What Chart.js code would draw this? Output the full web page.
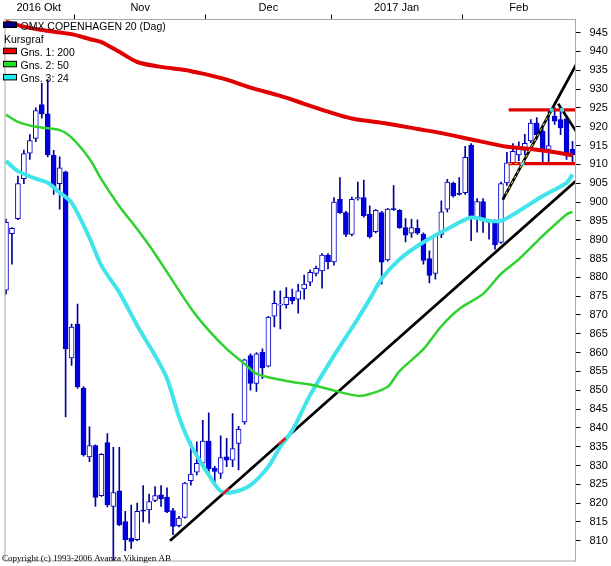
<!DOCTYPE html>
<html>
<head>
<meta charset="utf-8">
<script src="https://cdn.jsdelivr.net/npm/chart.js@4.4.1/dist/chart.umd.min.js"></script>
<style>
  html, body { margin: 0; padding: 0; background: #fff; }
  #wrap { width: 611px; height: 566px; }
</style>
</head>
<body>
<div id="wrap"><canvas id="myChart" width="611" height="566"></canvas></div>
<script>
// trading days from 2016-10-14 to 2017-02-27, index 0..95
const months = ["2016 Okt", "Nov", "Dec", "2017 Jan", "Feb"];
const monthStart = [0, 12, 34, 55, 77];
const lastDay = 95;

const open = [876.6, 891.6, 895.6, 906.2, 913.0, 916.9, 925.9, 923.4, 912.5, 904.9,
  908.0, 858.6, 867.6, 850.6, 832.3, 835.3, 822.0, 836.1, 819.1, 823.3,
  815.1, 810.7, 810.3, 818.0, 818.2, 820.7, 822.2, 821.6, 818.0, 814.0,
  816.2, 826.0, 828.2, 830.6, 836.5, 829.3, 827.9, 832.3, 831.4, 835.9,
  841.6, 859.2, 851.8, 860.1, 856.4, 869.7, 872.6, 872.7, 874.7, 874.2,
  876.9, 878.7, 881.0, 881.7, 885.9, 884.1, 900.7, 897.2, 891.4, 900.8,
  901.2, 896.7, 892.1, 897.2, 884.6, 898.2, 897.8, 893.2, 891.7, 893.0,
  891.4, 885.0, 881.0, 891.4, 898.1, 905.0, 902.3, 902.5, 915.1, 895.9,
  900.1, 894.8, 895.0, 889.3, 905.1, 910.4, 912.5, 913.8, 916.2, 921.0,
  918.8, 914.0, 922.8, 921.9, 922.1, 914.0];
const high = [895.5, 893.2, 906.9, 913.8, 917.9, 925.0, 931.5, 932.5, 913.7, 912.0,
  908.2, 867.6, 872.9, 851.0, 840.3, 835.5, 833.2, 838.5, 834.8, 834.8,
  817.8, 819.5, 820.0, 824.7, 822.4, 824.4, 824.7, 824.1, 818.6, 816.5,
  825.5, 836.3, 836.3, 842.0, 844.0, 829.8, 837.9, 837.2, 843.8, 840.4,
  858.3, 859.7, 860.0, 861.0, 869.6, 876.4, 876.4, 877.3, 876.9, 878.2,
  880.6, 882.0, 883.0, 886.3, 886.3, 901.2, 906.5, 897.5, 901.3, 905.3,
  905.8, 899.0, 898.0, 897.5, 898.3, 904.4, 898.0, 895.6, 895.4, 895.3,
  891.8, 887.0, 891.5, 900.3, 906.0, 905.3, 906.5, 914.8, 915.5, 900.9,
  900.9, 895.0, 895.3, 905.3, 913.2, 915.5, 916.0, 918.0, 921.9, 922.4,
  919.8, 924.5, 925.1, 924.5, 922.5, 916.1];
const low = [875.5, 883.5, 895.3, 904.9, 911.3, 916.0, 922.3, 912.0, 902.0, 898.1,
  842.9, 856.6, 850.5, 832.5, 831.0, 819.1, 821.8, 819.0, 803.0, 814.0,
  807.4, 808.0, 810.0, 815.0, 814.7, 820.4, 819.1, 817.5, 811.6, 813.7,
  816.0, 824.8, 827.5, 830.3, 828.1, 825.0, 826.6, 829.7, 829.7, 828.8,
  841.0, 850.0, 849.7, 853.1, 856.2, 866.8, 866.3, 871.8, 872.9, 870.5,
  874.2, 877.8, 880.4, 877.1, 882.2, 883.2, 897.0, 890.8, 891.0, 900.5,
  896.0, 890.4, 891.8, 878.2, 884.3, 897.8, 893.0, 889.4, 890.6, 891.4,
  883.5, 878.5, 879.5, 890.5, 897.4, 901.3, 901.8, 902.0, 889.7, 892.0,
  891.9, 890.1, 887.5, 889.0, 904.4, 910.0, 911.0, 912.5, 915.8, 916.6,
  910.0, 910.5, 920.6, 917.9, 911.3, 910.0];
const close = [894.6, 893.0, 904.9, 912.9, 916.3, 924.3, 923.4, 912.5, 903.8, 909.1,
  861.0, 866.8, 850.9, 832.8, 835.3, 821.5, 833.0, 819.5, 822.8, 814.2,
  810.3, 809.8, 817.8, 817.9, 820.4, 822.0, 821.1, 817.7, 813.8, 816.0,
  825.3, 827.7, 830.6, 836.5, 829.1, 828.4, 832.1, 831.4, 834.5, 839.6,
  858.1, 851.8, 859.7, 855.9, 869.4, 873.1, 872.8, 874.7, 873.8, 876.4,
  878.2, 881.3, 882.4, 885.9, 884.1, 900.0, 897.2, 891.4, 900.7, 901.2,
  896.3, 890.8, 897.8, 884.0, 898.1, 898.0, 893.2, 891.2, 893.2, 891.7,
  884.5, 880.5, 891.2, 897.4, 905.3, 901.6, 902.0, 911.9, 895.9, 900.1,
  895.0, 894.6, 888.6, 904.9, 910.4, 913.5, 914.5, 915.6, 921.0, 917.9,
  914.0, 915.0, 921.5, 919.7, 913.1, 912.6];

// moving averages, read at selected days
const ma200Day = [0, 3, 6, 11, 14, 16, 19, 22, 26, 30, 33, 37, 41, 46, 50, 54, 58, 64, 69, 73, 79, 84, 88, 91, 95];
const ma200 = [947.9, 946.6, 945.7, 944.6, 943.3, 942.5, 939.9, 937.2, 935.9, 935.1, 934.1, 932.5, 930.4, 928.2, 926.1, 924.0, 922.2, 920.8, 919.4, 918.3, 916.3, 914.7, 914.1, 913.5, 912.4];
const ma50Day = [0, 2, 5, 9, 11, 14, 16, 19, 22, 25, 31, 34, 37, 40, 42, 45, 48, 51, 55, 59, 61, 64, 66, 70, 73, 76, 80, 83, 86, 90, 94, 95];
const ma50 = [923.2, 921.3, 920.0, 919.1, 917.1, 911.5, 906.0, 898.9, 892.8, 886.2, 871.8, 865.9, 861.0, 857.0, 854.4, 853.1, 852.2, 851.5, 849.9, 848.5, 849.0, 850.9, 855.1, 860.9, 867.0, 871.6, 875.6, 880.9, 884.8, 891.0, 896.7, 897.4];
const ma24Day = [0, 2, 5, 7, 9, 11, 14, 16, 19, 22, 25, 27, 29, 31, 34, 36, 38, 41, 44, 46, 48, 51, 55, 59, 61, 63, 66, 70, 75, 78, 81, 83, 86, 90, 94, 95];
const ma24 = [910.9, 908.2, 906.2, 905.1, 902.5, 899.8, 890.5, 883.1, 876.0, 867.2, 859.2, 853.1, 843.0, 835.4, 827.5, 823.2, 822.9, 824.8, 829.7, 835.0, 839.3, 848.7, 859.2, 869.0, 874.2, 879.6, 884.8, 889.3, 893.7, 895.9, 895.0, 895.0, 897.6, 901.6, 905.1, 907.3];

// drawn trend lines and levels: [day, value]
const supportLine = [[27.5, 810.0], [95.5, 905.5]];
const steepLine = [[83.3, 900.6], [95.6, 936.5]];
const topLine = [[92.6, 926.1], [95.6, 918.8]];
const levelFrom = 84.3;
const resistance = 924.5;
const support = 910.2;
const supportMarks = [[36.3, 37.4], [45.7, 46.9]];
const steepDash = [83.8, 91.3];
const supportDash = [84.3, 86.6];

const yTicks = [810, 815, 820, 825, 830, 835, 840, 845, 850, 855, 860, 865, 870, 875,
  880, 885, 890, 895, 900, 905, 910, 915, 920, 925, 930, 935, 940, 945];

const legendLabels = ["OMX COPENHAGEN 20 (Dag)", "Kursgraf", "Gns. 1: 200", "Gns. 2: 50", "Gns. 3: 24"];
const legendColors = ["#000080", null, "#ee0000", "#22e022", "#22eeee"];
const copyright = "Copyright (c) 1993-2006 Avanza Vikingen AB";

const RED = "#e00000";
const GREEN = "#2fd22f";
const CYAN = "#40e4ea";
const BLUE = "#0000e0";
const WICK = "#00009a";

const lineAt = (seg, d) => seg[0][1] + ((d - seg[0][0]) * (seg[1][1] - seg[0][1])) / (seg[1][0] - seg[0][0]);
const toPoints = (days, vals) => days.map((d, i) => ({ x: d, y: vals[i] }));
const crossDay = (seg, level) => seg[0][0] + ((level - seg[0][1]) * (seg[1][0] - seg[0][0])) / (seg[1][1] - seg[0][1]);

const days = open.map((o, i) => i);
const wickData = days.map((i) => ({ x: i, y: [low[i], high[i]] }));
const bodyData = days.map((i) => ({ x: i, y: [open[i], close[i]] }));
const bodyColors = days.map((i) => (close[i] >= open[i] ? "#ffffff" : BLUE));

const markPoints = [];
supportMarks.forEach(([a, b]) => {
  markPoints.push({ x: a, y: lineAt(supportLine, a) }, { x: b, y: lineAt(supportLine, b) }, { x: b + 0.1, y: null });
});

const crossings = [
  { x: crossDay(steepLine, support), y: support },
  { x: crossDay(steepLine, resistance), y: resistance },
  { x: crossDay(topLine, resistance), y: resistance },
];

const monthEnds = monthStart.slice(1).concat([lastDay + 1]);
const boundaries = monthStart.slice(1).map((d) => d - 0.5);
const labelPos = monthStart.map((d, i) => (d - 0.5 + monthEnds[i] - 0.5) / 2);

const lineDs = (label, data, color, width, extra) =>
  Object.assign({ type: "line", label, data, borderColor: color, borderWidth: width, pointRadius: 0, fill: false, order: 1, clip: 0 }, extra || {});

const noPadding = (s) => {
  s.paddingLeft = 0;
  s.paddingRight = 0;
  s.paddingTop = 0;
  s.paddingBottom = 0;
};

const frame = {
  id: "frame",
  afterDatasetsDraw(chart) {
    const { ctx, chartArea: a } = chart;
    ctx.save();
    ctx.strokeStyle = "#a8a8a8";
    ctx.lineWidth = 1;
    ctx.strokeRect(a.left, a.top, a.right - a.left, a.bottom - a.top);
    ctx.restore();
  },
  afterDraw(chart) {
    const c = chart.ctx;
    c.save();
    c.font = '10.5px "Liberation Sans", Arial, sans-serif';
    c.textBaseline = "alphabetic";
    legendLabels.forEach((txt, k) => {
      const y = 29.5 + k * 13.1;
      c.fillStyle = "#000";
      if (legendColors[k]) {
        c.fillStyle = legendColors[k];
        c.fillRect(3.5, y - 7.5, 13, 5.5);
        c.strokeStyle = "#000";
        c.lineWidth = 1;
        c.strokeRect(3.5, y - 7.5, 13, 5.5);
        c.fillStyle = "#000";
        c.fillText(txt, 20.5, y);
      } else {
        c.fillText(txt, 4, y);
      }
    });
    c.font = '9px "Liberation Serif", "Times New Roman", serif';
    c.fillText(copyright, 2, 561);
    c.restore();
  },
};

new Chart(document.getElementById("myChart"), {
  type: "bar",
  data: {
    datasets: [
      lineDs("Gns. 1: 200", toPoints(ma200Day, ma200), RED, 4, { tension: 0.3 }),
      lineDs("Gns. 2: 50", toPoints(ma50Day, ma50), GREEN, 2.5, { tension: 0.3 }),
      lineDs("Gns. 3: 24", toPoints(ma24Day, ma24), CYAN, 4, { tension: 0.3 }),
      lineDs("support", supportLine.map(([x, y]) => ({ x, y })), "#000", 2.7),
      lineDs("marks", markPoints, "#d42020", 2.7, { order: 0 }),
      lineDs("steep", steepLine.map(([x, y]) => ({ x, y })), "#000", 2.7),
      lineDs("steepDash", steepDash.map((d) => ({ x: d, y: lineAt(steepLine, d) })), "#f4f060", 1, { borderDash: [3, 3], order: 0 }),
      lineDs("top", topLine.map(([x, y]) => ({ x, y })), "#000", 2.7),
      lineDs("resistance", [{ x: levelFrom, y: resistance }, { x: lastDay + 0.6, y: resistance }], RED, 3.3),
      lineDs("support level", [{ x: levelFrom, y: support }, { x: lastDay + 0.6, y: support }], RED, 3.3),
      lineDs("supportDash", supportDash.map((d) => ({ x: d, y: support })), "#e0c040", 1, { borderDash: [3, 3], order: 0 }),
      {
        type: "scatter", label: "cross", data: crossings, pointStyle: "rect", pointRadius: 2,
        backgroundColor: CYAN, borderColor: CYAN, order: 0, clip: 0,
      },
      {
        label: "bodies", data: bodyData, backgroundColor: bodyColors, borderColor: "#0000c8",
        borderWidth: 1, borderSkipped: false, barThickness: 5, minBarLength: 1, grouped: false, order: 5, clip: 0,
      },
      {
        label: "wicks", data: wickData, backgroundColor: WICK, borderWidth: 0,
        barThickness: 1, grouped: false, order: 6, clip: 0,
      },
    ],
  },
  options: {
    responsive: false,
    devicePixelRatio: 1,
    animation: false,
    events: [],
    layout: { padding: { left: 1.5, right: 0, top: 0, bottom: 3 } },
    plugins: { legend: { display: false }, tooltip: { enabled: false } },
    scales: {
      x: {
        type: "linear",
        position: "top",
        min: -1 / 6,
        max: lastDay + 0.5,
        offset: false,
        afterBuildTicks: (s) => {
          s.ticks = boundaries.concat(labelPos).map((v) => ({ value: v }));
        },
        afterFit: (s) => {
          s.height = 19.5;
          noPadding(s);
        },
        border: { display: false },
        grid: {
          drawOnChartArea: false,
          offset: false,
          tickLength: 5,
          tickColor: (ctx) => (ctx.index < boundaries.length ? "#000" : "rgba(0,0,0,0)"),
        },
        ticks: {
          autoSkip: false,
          maxRotation: 0,
          padding: 0,
          color: "#000",
          font: { family: "Liberation Sans", size: 11 },
          callback: (v, i) => (i < boundaries.length ? "" : months[i - boundaries.length]),
        },
      },
      y: {
        position: "right",
        min: 804.63,
        max: 948.49,
        afterBuildTicks: (s) => {
          s.ticks = yTicks.map((v) => ({ value: v }));
        },
        afterFit: (s) => {
          s.width = 35.5;
          noPadding(s);
        },
        border: { display: false },
        grid: { drawOnChartArea: false, tickLength: 5, tickColor: "#000" },
        ticks: { autoSkip: false, padding: 9, color: "#000", font: { family: "Liberation Sans", size: 11 } },
      },
    },
  },
  plugins: [frame],
});
</script>
</body>
</html>
